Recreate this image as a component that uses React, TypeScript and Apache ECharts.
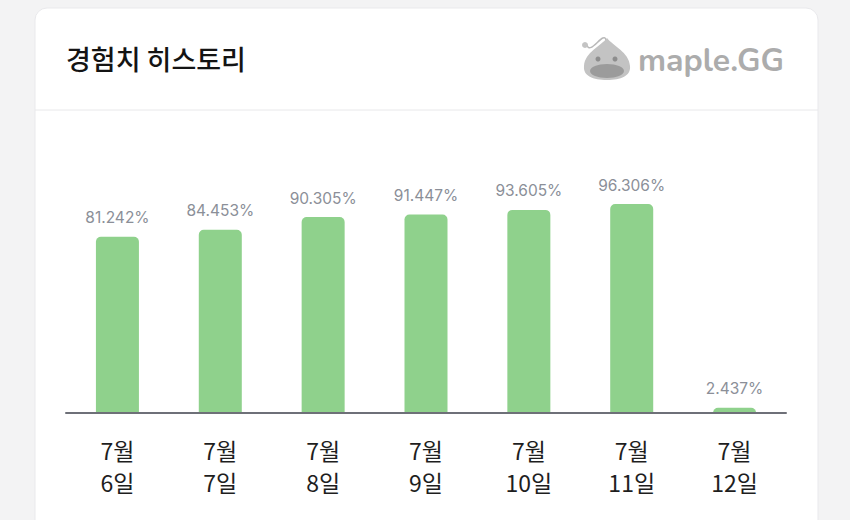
import React, { useEffect, useRef } from "react";
import * as echarts from "echarts";

const monthLabels = ["7월", "7월", "7월", "7월", "7월", "7월", "7월"];
const dayLabels = ["6일", "7일", "8일", "9일", "10일", "11일", "12일"];
const expValues = [81.242, 84.453, 90.305, 91.447, 93.605, 96.306, 2.437];
const titleText = "경험치 히스토리";
const logoText = "maple.GG";

const blobPath =
  "M24 2 C30 10 46 16 47 30 C48 40 38 44 24 44 C10 44 0 40 1 30 C2 16 18 10 24 2 Z";
echarts.graphic.registerShape("blob", echarts.graphic.extendPath(blobPath, {}) as any);

export default function App() {
  const ref = useRef<HTMLDivElement>(null);
  useEffect(() => {
    if (!ref.current) return;
    const chart = echarts.init(ref.current, undefined, { renderer: "svg" });
    const categories = monthLabels.map((m, i) => `${m}\n${dayLabels[i]}`);
    chart.setOption({
      animation: false,
      backgroundColor: "#f3f3f4",
      grid: { left: 66, right: 64, top: 196, bottom: 107 },
      xAxis: {
        type: "category",
        data: categories,
        axisLine: { lineStyle: { color: "#6e7078", width: 2 } },
        axisTick: { show: false },
        axisLabel: {
          color: "#1e1e1e",
          fontSize: 23,
          lineHeight: 32,
          margin: 21,
          fontFamily: "Noto Sans CJK KR",
        },
        z: 10,
      },
      yAxis: {
        type: "value",
        min: 0,
        max: 100,
        show: false,
      },
      graphic: [
        {
          type: "rect",
          shape: { x: 35, y: 8, width: 783, height: 530, r: 12 },
          style: { fill: "#ffffff", stroke: "#e9e9ec", lineWidth: 1 },
          z: -10,
        },
        {
          type: "line",
          shape: { x1: 35, y1: 110, x2: 818, y2: 110 },
          style: { stroke: "#e8e8ea", lineWidth: 1 },
          z: -9,
        },
        {
          type: "text",
          x: 66,
          y: 58,
          style: {
            text: titleText,
            fontSize: 27,
            fontWeight: 500,
            fill: "#141414",
            fontFamily: "Noto Sans CJK KR",
            verticalAlign: "middle",
          },
        },
        {
          type: "bezierCurve",
          shape: { x1: 587, y1: 45, x2: 606, y2: 40, cpx1: 590, cpy1: 56, cpx2: 604, cpy2: 30 },
          style: { stroke: "#b9b9b9", lineWidth: 1.5, fill: null },
        },
        {
          type: "circle",
          shape: { cx: 585, cy: 45, r: 3 },
          style: { fill: "#c4c4c4" },
        },
        {
          type: "blob",
          x: 583,
          y: 36,
          scaleX: 1.0,
          scaleY: 1.0,
          style: { fill: "#c3c3c3" },
        },
        {
          type: "ellipse",
          shape: { cx: 607, cy: 71, rx: 17, ry: 7 },
          style: { fill: "#9b9b9b" },
        },
        {
          type: "circle",
          shape: { cx: 598, cy: 59, r: 2.5 },
          style: { fill: "#8d8d8d" },
        },
        {
          type: "circle",
          shape: { cx: 615, cy: 59, r: 2.5 },
          style: { fill: "#8d8d8d" },
        },
        {
          type: "text",
          x: 638,
          y: 60,
          style: {
            text: logoText,
            fontSize: 32,
            fontWeight: 700,
            fill: "#acacac",
            fontFamily: "Nunito, Lato, sans-serif",
            verticalAlign: "middle",
          },
        },
      ],
      series: [
        {
          type: "bar",
          data: expValues,
          barWidth: 43,
          itemStyle: { color: "#8fd18c", borderRadius: [5, 5, 0, 0] },
          label: {
            show: true,
            position: "top",
            distance: 11,
            formatter: (p: any) => `${p.value.toFixed(3)}%`,
            color: "#8b8f98",
            fontSize: 15.5,
            fontFamily: "Inter",
          },
        },
      ],
    });
    return () => chart.dispose();
  }, []);
  return (
    <div
      ref={ref}
      style={{ position: "fixed", left: 0, top: 0, width: 850, height: 520 }}
    />
  );
}
